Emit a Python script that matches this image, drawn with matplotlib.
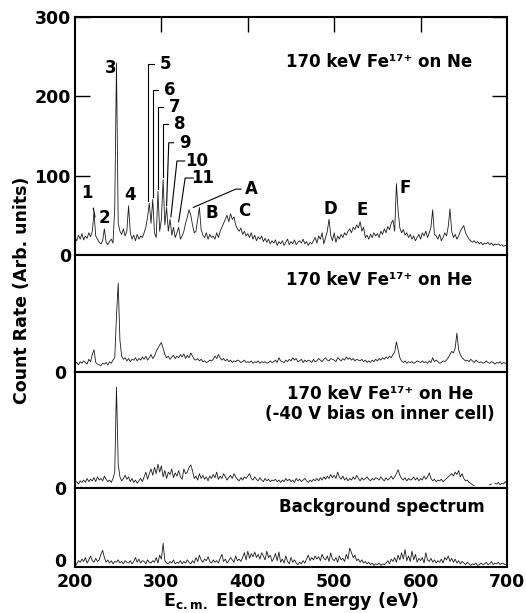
import numpy as np
import matplotlib
matplotlib.use("Agg")
import matplotlib.pyplot as plt

plt.rcParams["font.family"] = ["DejaVu Sans"]
plt.rcParams["font.weight"] = "bold"
plt.rcParams["mathtext.default"] = "bf"

# ============================================================
# Data (2 eV sampling from 200 to 700 eV)
# ============================================================

E_START, E_STOP, E_STEP = 200, 700, 2

# 170 keV Fe17+ on Ne
COUNTS_NE = [
    22, 18, 25, 20, 27,   19, 24, 21, 28, 23,   30, 53, 24, 20, 16,   14, 18, 33, 16, 13,
    17, 20, 15, 60, 242,  40, 30, 26, 33, 24,   30, 62, 28, 20, 25,   18, 26, 20, 24, 22,
    28, 35, 48, 65, 40,   70, 28, 22, 80, 30,   45, 95, 38, 60, 30,   45, 25, 35, 22, 28,
    35, 20, 24, 30, 40,   48, 57, 50, 38, 28,   30, 45, 60, 32, 25,   22, 28, 20, 26, 22,
    24, 20, 28, 22, 30,   35, 40, 45, 50, 42,   52, 45, 48, 38, 33,   30, 34, 26, 30, 24,
    27, 22, 28, 20, 25,   18, 23, 20, 24, 17,   21, 16, 20, 14, 18,   15, 19, 12, 17, 14,
    18, 12, 16, 20, 13,   17, 14, 19, 13, 16,   18, 15, 20, 14, 17,   12, 16, 14, 18, 22,
    15, 24, 20, 28, 14,   22, 30, 45, 25, 18,   28, 16, 24, 20, 26,   22, 28, 25, 30, 33,
    28, 35, 32, 38, 34,   42, 30, 35, 22, 25,   20, 26, 22, 28, 24,   27, 22, 30, 26, 33,
    28, 36, 32, 40, 44,   30, 90, 55, 34, 28,   32, 25, 28, 22, 26,   20, 24, 18, 22, 26,
    20, 28, 24, 30, 22,   28, 35, 57, 26, 24,   20, 26, 18, 22, 28,   24, 36, 58, 30, 22,
    26, 20, 24, 30, 34,   37, 28, 24, 20, 18,   16, 18, 15, 17, 14,   16, 13, 15, 14, 16,
    13, 15, 12, 14, 13,   14, 12, 13, 11, 12,   12,
]

# 170 keV Fe17+ on He
COUNTS_HE = [
    10, 12, 9, 13, 11,    14, 12, 10, 16, 13,   22, 28, 12, 10, 9,     8, 11, 10, 12, 9,
    13, 11, 15, 18, 70,   112, 40, 20, 16, 18,  14, 17, 13, 16, 15,   18, 14, 17, 15, 19,
    16, 20, 15, 18, 22,   17, 20, 26, 30, 34,   37, 30, 22, 18, 20,   16, 19, 21, 17, 20,
    18, 22, 19, 23, 17,   21, 18, 24, 20, 16,   15, 17, 14, 16, 13,   14, 12, 13, 15, 14,
    16, 20, 17, 22, 18,   15, 17, 14, 16, 13,   15, 12, 14, 13, 15,   14, 12, 13, 15, 12,
    13, 12, 14, 11, 13,   12, 14, 11, 13, 12,   13, 11, 12, 14, 12,   13, 15, 12, 18, 14,
    13, 12, 15, 13, 16,   14, 18, 15, 17, 13,   14, 16, 12, 15, 13,   15, 14, 12, 16, 13,
    14, 17, 15, 13, 16,   18, 15, 14, 17, 16,   15, 13, 18, 16, 14,   17, 15, 19, 16, 18,
    15, 17, 14, 16, 15,   14, 16, 13, 15, 12,   14, 12, 15, 13, 16,   14, 17, 15, 18, 16,
    19, 17, 20, 18, 22,   25, 38, 28, 18, 14,   12, 14, 11, 13, 12,   13, 11, 12, 14, 13,
    12, 14, 12, 13, 11,   14, 12, 18, 13, 15,   13, 11, 12, 14, 13,   15, 18, 22, 26, 24,
    30, 49, 28, 22, 18,   16, 14, 15, 13, 16,   14, 12, 15, 13, 12,   13, 11, 12, 14, 12,
    11, 13, 12, 10, 12,   11, 13, 10, 12, 11,   11,
]

# 170 keV Fe17+ on He, -40 V bias on inner cell
COUNTS_HE_BIAS = [
    6, 8, 5, 9, 7,        10, 7, 12, 8, 11,     9, 13, 8, 14, 10,     12, 9, 15, 11, 8,
    10, 7, 12, 20, 127,   30, 14, 9, 12, 16,    11, 14, 8, 12, 7,     10, 6, 9, 12, 8,
    14, 20, 11, 18, 24,   16, 26, 18, 30, 20,   28, 14, 22, 12, 20,   17, 24, 13, 19, 15,
    22, 14, 11, 24, 18,   20, 26, 29, 22, 12,   15, 10, 18, 12, 16,   11, 14, 9, 15, 12,
    17, 13, 20, 11, 15,   12, 18, 14, 10, 13,   16, 12, 18, 14, 11,   9, 13, 10, 14, 12,
    15, 18, 12, 10, 14,   11, 9, 13, 10, 8,     12, 9, 11, 8, 10,     9, 11, 8, 10, 7,
    10, 8, 12, 9, 11,     8, 10, 7, 12, 9,      11, 8, 10, 12, 9,     7, 10, 8, 11, 9,
    12, 9, 13, 10, 14,    11, 15, 12, 17, 13,   16, 12, 20, 14, 11,   15, 10, 13, 9, 12,
    10, 14, 11, 16, 12,   9, 13, 10, 12, 14,    11, 9, 12, 10, 13,    12, 10, 14, 11, 9,
    13, 10, 12, 15, 11,   14, 18, 23, 16, 12,   10, 13, 9, 12, 10,    11, 14, 10, 13, 9,
    12, 10, 15, 11, 14,   19, 12, 9, 11, 8,     10, 9, 11, 8, 10,     12, 14, 16, 18, 15,
    20, 17, 22, 14, 18,   12, 9, 10, 7, 6,      4, 3, None, None, None, None, None, None, None, None,
    4, 5, None, 6, 5,     7, 4, 6, 5, 8,        5,
]

# Background spectrum
COUNTS_BG = [
    0, 4, 8, 6, 10,       7, 12, 5, 9, 14,      8, 6, 11, 7, 9,       16, 21, 12, 6, 9,
    5, 8, 4, 7, 6,        9, 5, 7, 4, 8,        6, 5, 8, 4, 7,        12, 6, 10, 5, 8,
    7, 4, 9, 6, 5,        8, 6, 12, 5, 15,      10, 30, 8, 5, 4,      7, 5, 9, 4, 6,
    5, 8, 4, 7, 5,        9, 6, 4, 8, 5,        12, 7, 15, 9, 6,      10, 8, 13, 7, 5,
    9, 6, 8, 5, 11,       16, 7, 10, 5, 8,      12, 9, 6, 14, 8,      10, 7, 12, 18, 9,
    20, 11, 17, 13, 19,   12, 16, 10, 18, 14,   9, 20, 12, 15, 7,     11, 17, 8, 19, 6,
    10, 5, 14, 7, 4,      12, 6, 9, 5, 3,       6, 4, 8, 5, 10,       15, 8, 12, 9, 14,
    10, 13, 8, 16, 11,    9, 14, 7, 18, 10,     8, 12, 6, 14, 9,      11, 7, 16, 10, 24,
    18, 12, 15, 8, 10,    6, 9, 5, 7, 4,        6, 3, 5, 2, 4,        3, 5, 2, 4, 3,
    5, 8, 4, 10, 7,       12, 6, 15, 9, 18,     10, 22, 8, 14, 7,     20, 9, 16, 6, 11,
    8, 12, 5, 18, 9,      7, 11, 6, 9, 5,       8, 6, 10, 5, 12,      9, 14, 7, 11, 6,
    10, 5, 8, 4, 7,       5, 3, 6, 4, 2,        4, 3, 5, 2, 3,        5, 3, 4, 6, 3,
    4, 7, 3, 5, 4,        6, 3, 5, 4, 3,        4,
]

# Peak labels in the top panel (label text, label x [eV], label y [counts])
PEAK_LABELS = ["1", "2", "3", "4", "5", "6", "7", "8", "9", "10", "11",
               "A", "B", "C", "D", "E", "F"]
PEAK_LABEL_X = [214, 233.5, 241.5, 263.5, 305, 310, 315.5, 321, 327, 341, 348,
                404.5, 358.5, 395.5, 495, 532, 582]
PEAK_LABEL_Y = [78, 47, 236, 76, 241, 208, 186, 165, 141.5, 118.5, 97,
                83, 53, 55, 58, 57, 84]

# Leader lines: polylines from label to peak (x in eV, y in counts)
LEADERS = [
    ([221.2, 223.1], [59, 48]),
    ([291.5, 284, 284], [241, 241, 68]),
    ([296.5, 290, 290], [208, 208, 73]),
    ([302, 296.5, 296.5], [186, 186, 83]),
    ([308, 302, 302], [165, 165, 98]),
    ([314, 308.5, 306], [141.5, 141.5, 62]),
    ([327, 318, 311], [118.5, 118.5, 48]),
    ([337, 327.5, 320], [97, 97, 42]),
    ([392, 386, 337], [83, 83, 60]),
]

PANEL_TITLES = [
    "170 keV Fe\u00b9\u2077\u207a on Ne",
    "170 keV Fe\u00b9\u2077\u207a on He",
    "170 keV Fe\u00b9\u2077\u207a on He\n(-40 V bias on inner cell)",
    "Background spectrum",
]

# ============================================================
# Figure
# ============================================================

energy = np.arange(E_START, E_STOP + 1, E_STEP)
series = [np.array(s, dtype=float) for s in
          (COUNTS_NE, COUNTS_HE, COUNTS_HE_BIAS, COUNTS_BG)]

fig = plt.figure(figsize=(5.26, 6.13), dpi=100)
W, H = 526.0, 613.0
x0, x1 = 75.0, 507.0
# panel pixel extents (top, bottom) and y ranges
panel_px = [(17, 255), (255, 372), (372, 488), (488, 567)]
ytops = [300, 147.5, 146, 100]

axes = []
for (top, bot), ytop in zip(panel_px, ytops):
    ax = fig.add_axes([x0 / W, 1 - bot / H, (x1 - x0) / W, (bot - top) / H])
    ax.set_xlim(200, 700)
    ax.set_ylim(0, ytop)
    for sp in ax.spines.values():
        sp.set_linewidth(1.5)
    axes.append(ax)

tick_font = dict(fontsize=12.5, fontweight="bold")
line_kw = dict(color="#1a1a1a", linewidth=0.6)

for ax, y in zip(axes, series):
    ax.plot(energy, y, **line_kw)

# top panel ticks
ax = axes[0]
ax.set_yticks([0, 100, 200, 300])
ax.set_yticklabels(["0", "100", "200", "300"], **tick_font)
ax.tick_params(axis="y", which="both", direction="in", length=11, width=1.0,
               right=True, pad=3)
ax.set_xticks([300, 400, 500, 600])
ax.tick_params(axis="x", direction="in", length=11, width=1.0, top=True,
               bottom=False, labelbottom=False)

for ax in axes[1:]:
    ax.set_yticks([0])
    ax.set_yticklabels(["0"], **tick_font)
    ax.tick_params(axis="y", length=0, pad=6)
    ax.set_xticks([])

# bottom panel: lift its "0" a little so it clears the "200" below
for t in axes[-1].get_yticklabels():
    t.set_verticalalignment("baseline")

axes[-1].set_xticks([200, 300, 400, 500, 600, 700])
axes[-1].set_xticklabels(["200", "300", "400", "500", "600", "700"], **tick_font)
axes[-1].tick_params(axis="x", length=0, pad=4)

# panel titles
title_pos = [(0.919, 0.81, "right"), (0.919, 0.786, "right"),
             (0.706, 0.724, "center"), (0.711, 0.763, "center")]
for ax, txt, (tx, ty, ha) in zip(axes, PANEL_TITLES, title_pos):
    ax.text(tx, ty, txt, transform=ax.transAxes, ha=ha, va="center",
            fontsize=12, fontweight="bold", linespacing=1.15)

# peak labels and leaders
ax = axes[0]
for lbl, lx, ly in zip(PEAK_LABELS, PEAK_LABEL_X, PEAK_LABEL_Y):
    ax.text(lx, ly, lbl, ha="center", va="center", fontsize=12,
            fontweight="bold")
for xs, ys in LEADERS:
    ax.plot(xs, ys, color="black", linewidth=0.8)

fig.text(22 / W, 1 - 290 / H, "Count Rate (Arb. units)", rotation=90,
         ha="center", va="center", fontsize=12.5, fontweight="bold")
fig.text(291 / W, 1 - 601 / H, "E$_{\\rm c.m.}$ Electron Energy (eV)",
         ha="center", va="center", fontsize=12.5, fontweight="bold")

fig.savefig("out.png", dpi=100)
